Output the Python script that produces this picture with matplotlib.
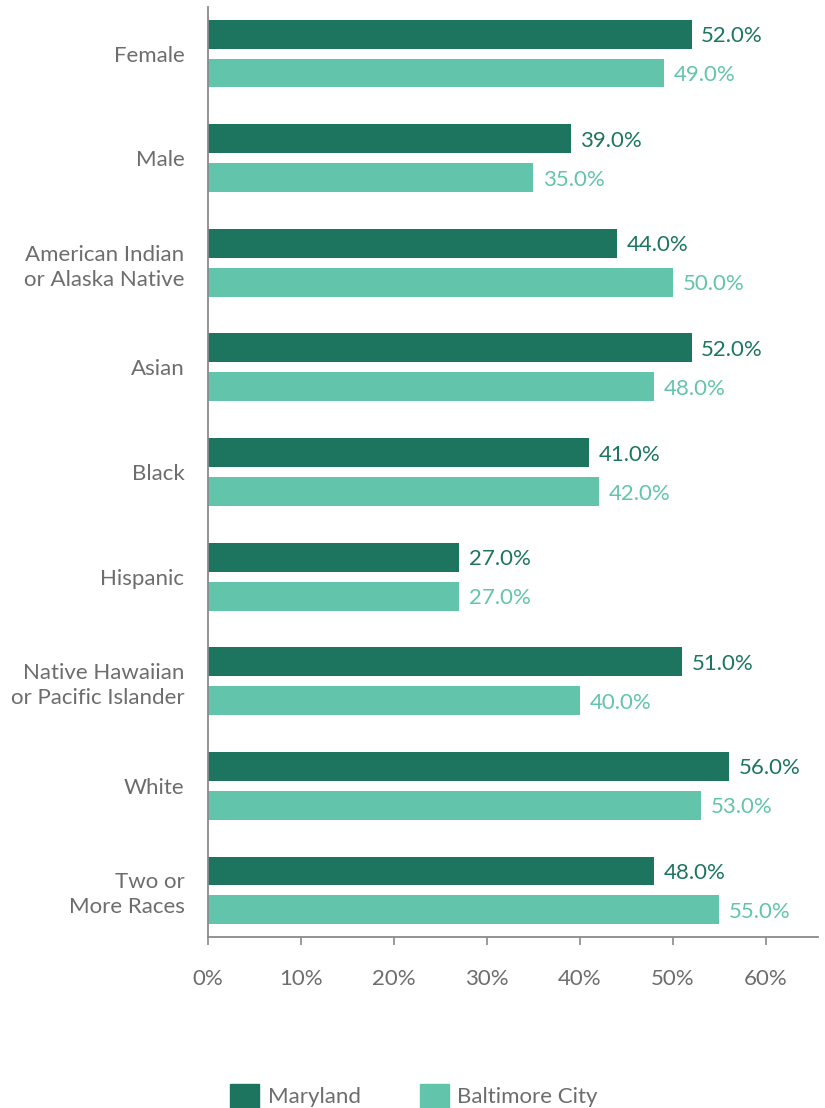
import matplotlib
matplotlib.use("Agg")
import matplotlib.pyplot as plt
import numpy as np
from matplotlib.patches import Patch

plt.rcParams["font.family"] = ["Lato", "DejaVu Sans"]

DARK = "#1d7560"
LIGHT = "#62c5ab"
GREY = "#6d6d6d"
AXIS = "#8a8a8a"

categories = [
    "Female", "Male", "American Indian\nor Alaska Native", "Asian", "Black",
    "Hispanic", "Native Hawaiian\nor Pacific Islander", "White", "Two or\nMore Races",
]
maryland = [52.0, 39.0, 44.0, 52.0, 41.0, 27.0, 51.0, 56.0, 48.0]
baltimore = [49.0, 35.0, 50.0, 48.0, 42.0, 27.0, 40.0, 53.0, 55.0]
xticks = [0, 10, 20, 30, 40, 50, 60]

fig = plt.figure(figsize=(8.25, 11.08), dpi=100)
ax = fig.add_axes([208 / 825, 1 - 937 / 1108, 610 / 825, 930 / 1108])

y = np.arange(len(categories))
h = 0.277
off = 0.186
b1 = ax.barh(y - off, maryland, height=h, color=DARK, label="Maryland")
b2 = ax.barh(y + off, baltimore, height=h, color=LIGHT, label="Baltimore City")

for bars, vals, col in [(b1, maryland, DARK), (b2, baltimore, LIGHT)]:
    for bar, v in zip(bars, vals):
        ax.annotate(f"{v:.1f}%", (v, bar.get_y() + bar.get_height() / 2),
                    xytext=(7, -1.5), textcoords="offset points",
                    va="center", ha="left", fontsize=16, color=col)

ax.set_xlim(0, 65.6)
ax.set_ylim(8.445, -0.445)
ax.set_yticks(y)
ax.set_yticklabels(categories, fontsize=16, color=GREY, multialignment="right",
                   linespacing=1.3)
ax.set_xticks(xticks)
ax.set_xticklabels([f"{t}%" for t in xticks], fontsize=16, color=GREY)
ax.tick_params(axis="y", length=0, pad=17)
ax.tick_params(axis="x", length=6, width=1.2, color=AXIS, pad=17)

for s in ["top", "right"]:
    ax.spines[s].set_visible(False)
for s in ["left", "bottom"]:
    ax.spines[s].set_color(AXIS)
    ax.spines[s].set_linewidth(1.3)

handles = [Patch(color=DARK, label="Maryland"), Patch(color=LIGHT, label="Baltimore City")]
fig.legend(handles=handles, loc="lower left", bbox_to_anchor=(230 / 825, 0.0),
           ncol=2, frameon=False, fontsize=16, labelcolor=GREY,
           handlelength=1.3, handleheight=1.3, handletextpad=0.4,
           columnspacing=2.65, borderpad=0, borderaxespad=0)

fig.savefig("out.png", dpi=100)
